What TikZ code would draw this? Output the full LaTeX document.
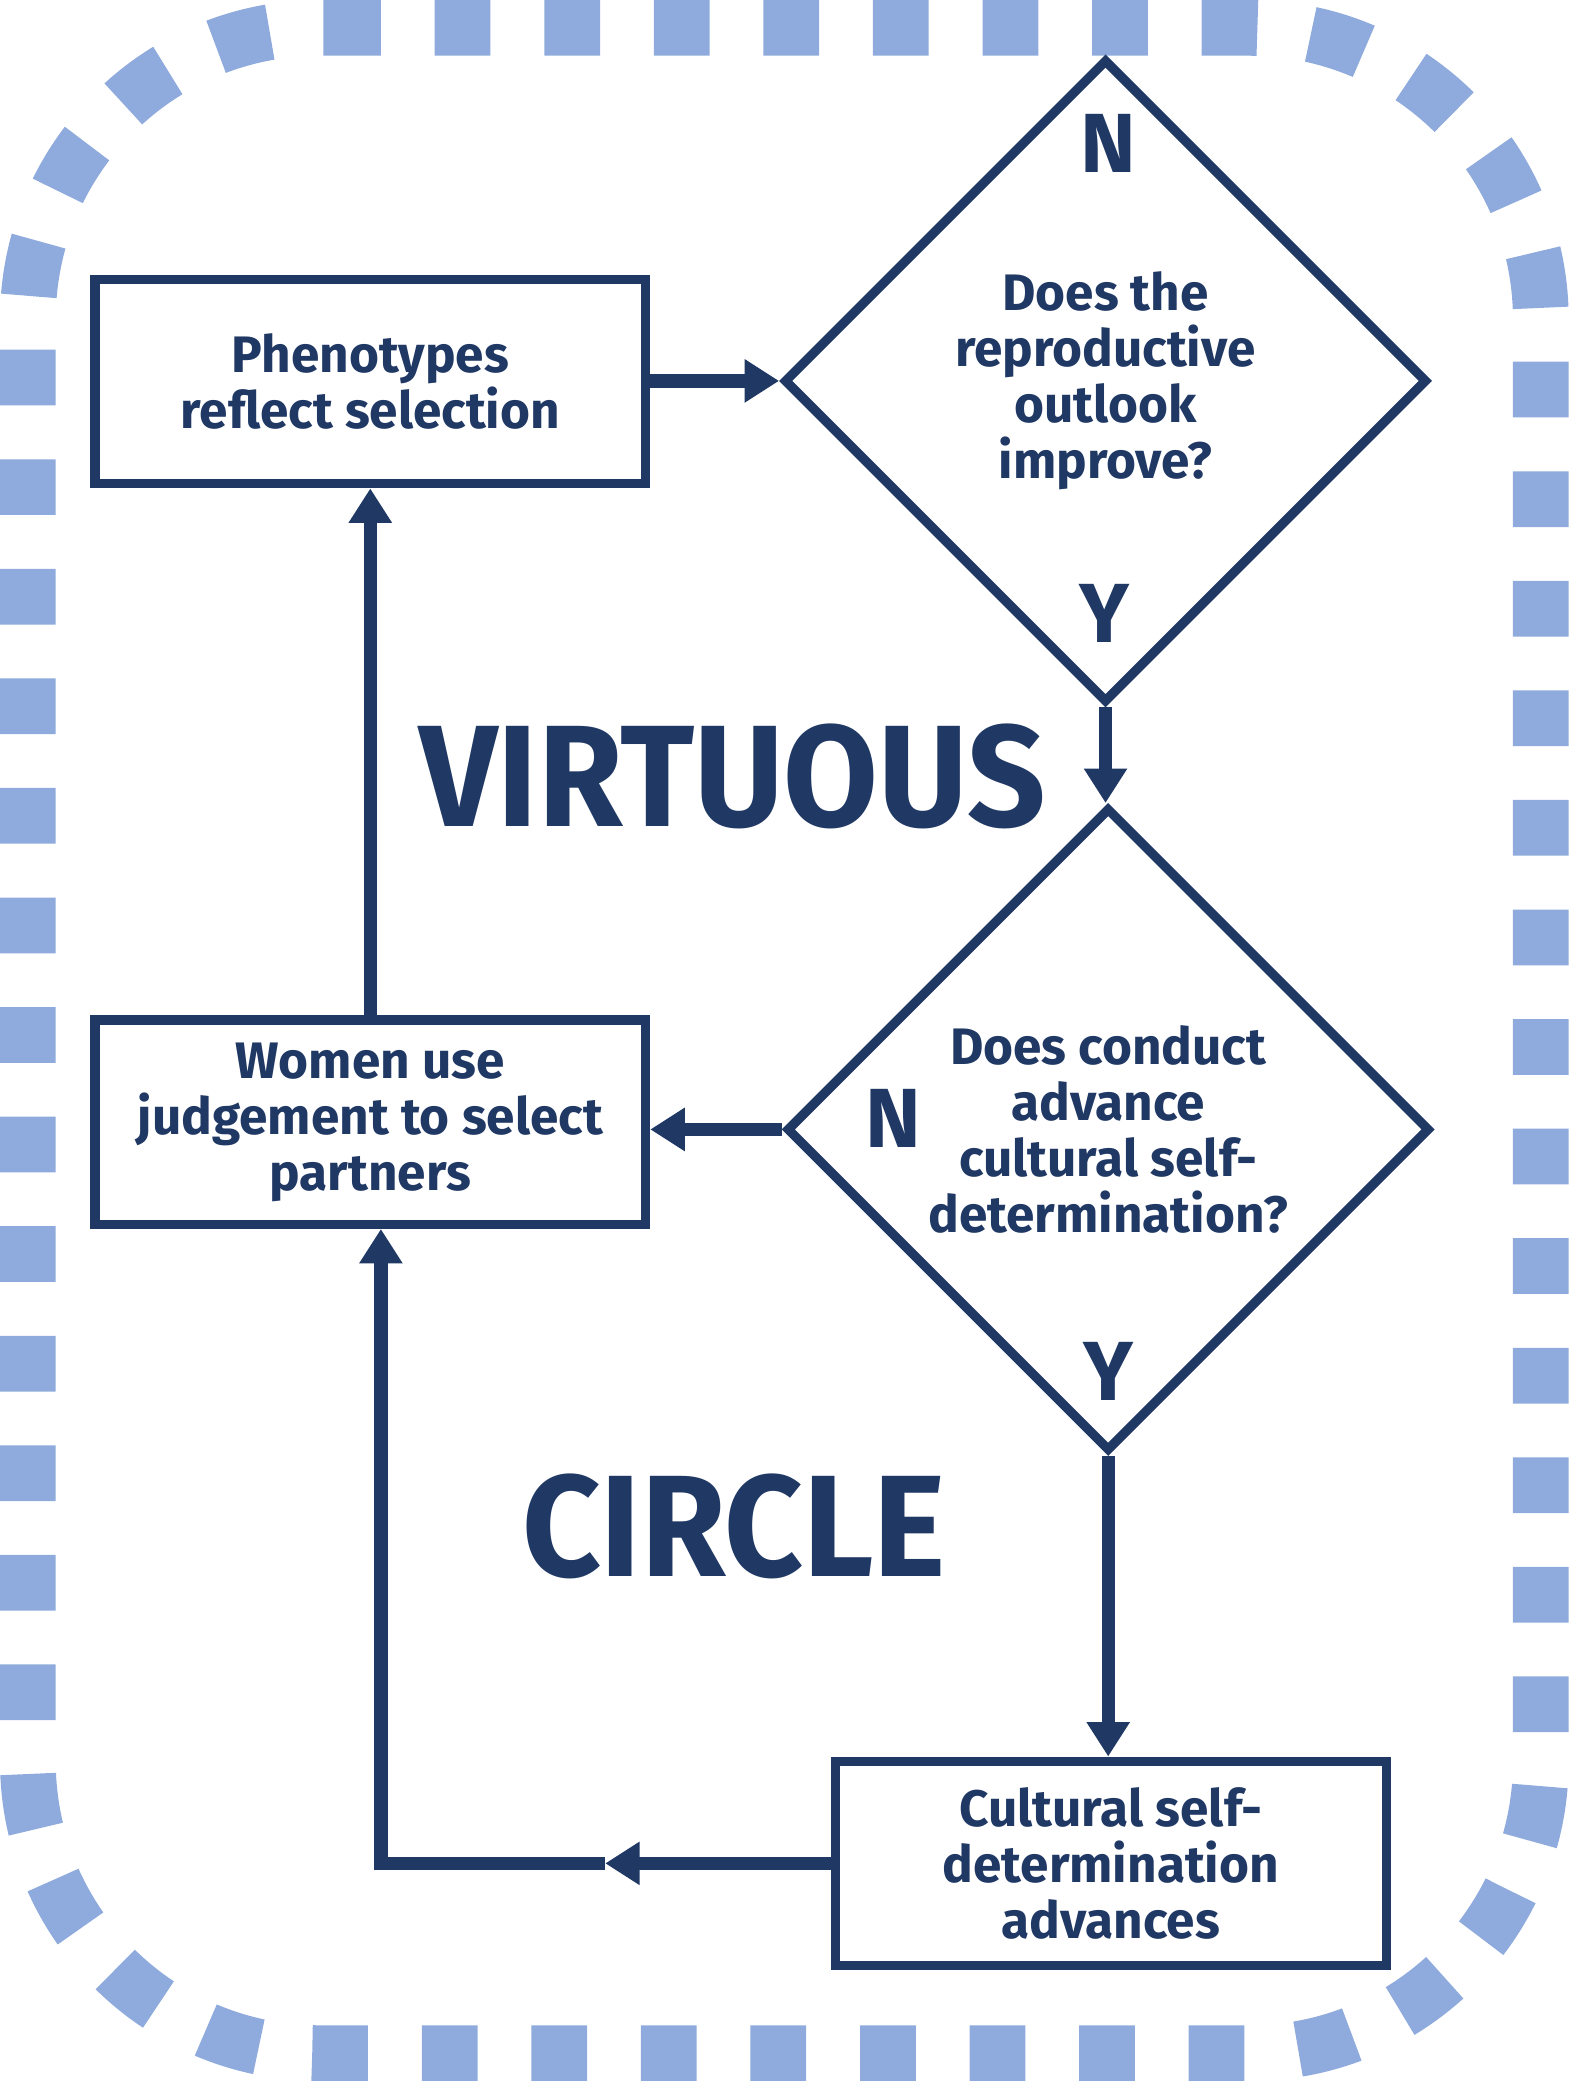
\documentclass[tikz,border=0pt]{standalone}
\usepackage{fontspec}
\setmainfont{Fira Sans}
\newfontfamily\bigfont{Fira Sans}[FakeStretch=0.95]
\usetikzlibrary{shapes.geometric,arrows.meta}
\definecolor{navy}{HTML}{203864}
\definecolor{dashblue}{HTML}{8FAADC}
\begin{document}
\begin{tikzpicture}[x=0.02cm,y=-0.02cm,
  box/.style={draw=navy,line width=0.14cm,minimum width=8.3cm,minimum height=3.08cm,align=center,text=navy,font=\bfseries\fontsize{22}{24}\selectfont},
  ask/.style={diamond,aspect=1,draw=navy,line width=0.14cm,minimum width=9.7cm,minimum height=9.7cm,inner sep=0pt,align=center,text=navy,font=\bfseries\fontsize{22}{24}\selectfont},
  yn/.style={text=navy,font=\bfseries\fontsize{36}{36}\selectfont},
  big/.style={text=navy,font=\bigfont\bfseries\fontsize{62}{62}\selectfont},
  flow/.style={navy,line width=0.2cm,-{Triangle[length=0.52cm,width=0.62cm]}}]
\useasboundingbox (0,0) rectangle (1182,1568);
\draw[dashblue,line width=0.84cm,dash pattern=on 0.84cm off 0.8114cm,rounded corners=4.4cm] (245,21) -- (1161,21) -- (1161,1547) -- (21,1547) -- (21,21) -- (245,21);
\node[box] (ph) at (279,287.5) {Phenotypes\\reflect selection};
\node[ask] (dq1) at (833,287) {Does the\\reproductive\\outlook\\improve?};
\node[ask] (dq2) at (835,851) {Does conduct\\advance\\cultural self-\\determination?};
\node[box] (wu) at (279,845.5) {Women use\\judgement to select\\partners};
\node[box] (cs) at (837,1404) {Cultural self-\\determination\\advances};
\node[yn] (n1) at (835,108) {N};
\node[yn] (y1) at (832,462) {Y};
\node[yn] (n2) at (673,843) {N};
\node[yn] (y2) at (835,1033) {Y};
\node[big] (vt) at (552,585) {VIRTUOUS};
\node[big] (cc) at (553,1150) {CIRCLE};
\coordinate (mid) at (456,1404);
\coordinate (turn) at (287,1404);
\draw[flow] (ph.east |- dq1.west) -- (dq1.west);
\draw[flow] (dq1.south) -- (dq1.south |- dq2.north);
\draw[flow] (dq2.west) -- (dq2.west -| wu.east);
\draw[flow] (wu.north) -- (ph.south);
\draw[flow] (dq2.south) -- (dq2.south |- cs.north);
\draw[flow] (cs.west) -- (mid);
\draw[flow] (mid) -- (turn) -- (turn |- wu.south);
\end{tikzpicture}
\end{document}
